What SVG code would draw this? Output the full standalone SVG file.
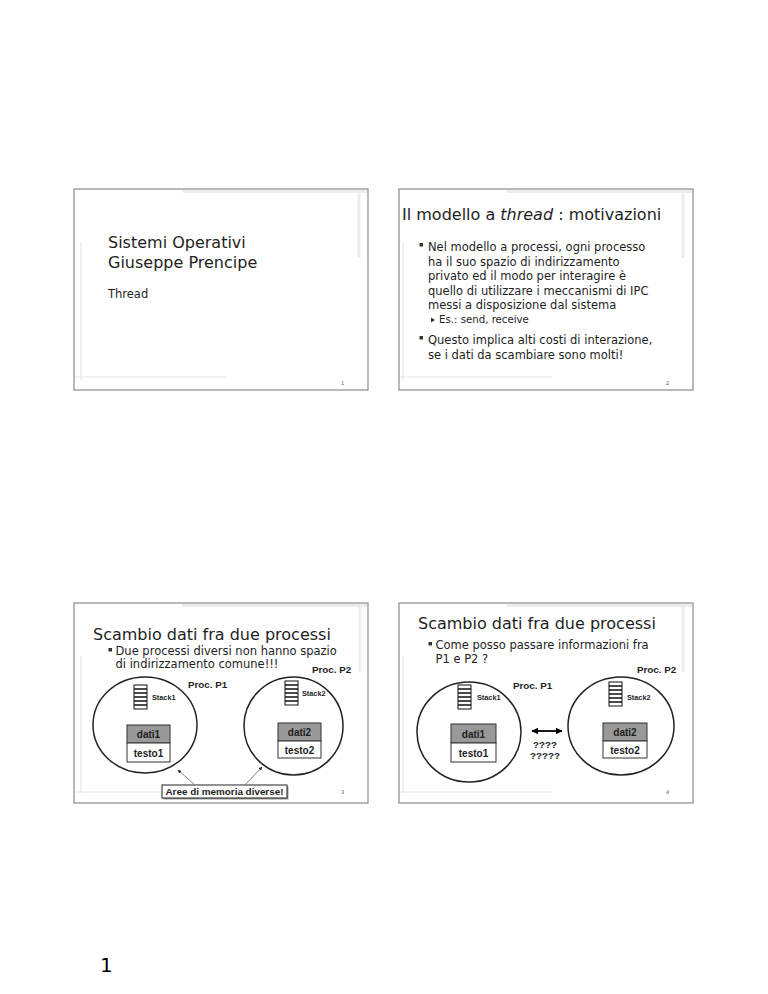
<svg xmlns="http://www.w3.org/2000/svg" width="768" height="994" viewBox="0 0 768 994">
<defs>
<style>
.frame{fill:#fff;stroke:#8a8a8a;stroke-width:1.2}
.shadeT{stroke:#ececec;stroke-width:3;fill:none}
.shadeL{stroke:#e6e6e6;stroke-width:1.2;fill:none}
.t{font-family:"DejaVu Sans","Noto Sans",sans-serif;fill:#1e1e1e}
.title{font-size:16px}
.body{font-size:11.5px}
.small{font-size:10.2px}
.pn{font-family:"DejaVu Sans",sans-serif;font-size:5px;fill:#555}
.lbl{font-family:"Liberation Sans",Arial,sans-serif;font-weight:bold;fill:#1e1e1e}
.circ{fill:#fff;stroke:#222;stroke-width:1.5}
.dati{fill:#999;stroke:#333;stroke-width:1}
.testo{fill:#fff;stroke:#333;stroke-width:1}
.stk{fill:#fff;stroke:#111;stroke-width:1}
.bul{fill:#333}
.ptr{stroke:#777;stroke-width:0.9;fill:none}
</style>
<marker id="ah" viewBox="0 0 10 10" refX="9" refY="5" markerWidth="4" markerHeight="4" orient="auto"><path d="M0,0 L10,5 L0,10 z" fill="#222"/></marker>
<marker id="ab" viewBox="0 0 10 10" refX="9" refY="5" markerWidth="4" markerHeight="4" orient="auto-start-reverse"><path d="M0,0 L10,5 L0,10 z" fill="#000"/></marker>
<g id="stackIcon">
<rect class="stk" x="0" y="0" width="13" height="24"/>
<path d="M0,4H13M0,8H13M0,12H13M0,16H13M0,20H13" stroke="#111" stroke-width="1.6"/>
</g>
</defs>
<rect width="768" height="994" fill="#fff"/>

<!-- Slide 1 -->
<g id="slide1">
<rect class="frame" x="74" y="189" width="294" height="201"/>
<path class="shadeT" d="M183,191.5H367"/>
<path class="shadeT" d="M359,192V258" stroke-width="2"/>
<path class="shadeL" d="M81,242V380M75,377H227"/>
<text class="t title" x="108" y="248">Sistemi Operativi</text>
<text class="t title" x="108" y="268">Giuseppe Prencipe</text>
<text class="t body" x="108" y="298">Thread</text>
<text class="pn" x="341" y="385">1</text>
</g>

<!-- Slide 2 -->
<g id="slide2">
<rect class="frame" x="399" y="189" width="294" height="201"/>
<path class="shadeT" d="M507,191.5H692"/>
<path class="shadeT" d="M683,192V258" stroke-width="2"/>
<path class="shadeL" d="M403,242V380M400,377H552"/>
<text class="t title" x="402" y="220">Il modello a <tspan font-style="italic">thread</tspan> : motivazioni</text>
<rect class="bul" x="419.5" y="243" width="3.5" height="3.5"/>
<text class="t body" x="428" y="251">Nel modello a processi, ogni processo</text>
<text class="t body" x="428" y="265.5">ha il suo spazio di indirizzamento</text>
<text class="t body" x="428" y="280">privato ed il modo per interagire è</text>
<text class="t body" x="428" y="294.5">quello di utilizzare i meccanismi di IPC</text>
<text class="t body" x="428" y="309">messi a disposizione dal sistema</text>
<path d="M431,317.5L435,320L431,322.5z" fill="#333"/>
<text class="t small" x="439" y="323">Es.: send, receive</text>
<rect class="bul" x="419.5" y="336" width="3.5" height="3.5"/>
<text class="t body" x="428" y="344">Questo implica alti costi di interazione,</text>
<text class="t body" x="428" y="358.5">se i dati da scambiare sono molti!</text>
<text class="pn" x="666" y="385">2</text>
</g>

<!-- Slide 3 -->
<g id="slide3">
<rect class="frame" x="74" y="603" width="294" height="200"/>
<path class="shadeT" d="M182,605.5H367"/>
<path class="shadeT" d="M360,606V672" stroke-width="2"/>
<path class="shadeL" d="M81,656V793M75,792H230"/>
<text class="t title" x="93" y="640">Scambio dati fra due processi</text>
<rect class="bul" x="108.5" y="648" width="3.5" height="3.5"/>
<text class="t body" x="115.5" y="655">Due processi diversi non hanno spazio</text>
<text class="t body" x="115.5" y="667.5">di indirizzamento comune!!!</text>
<text class="lbl" x="312" y="673" font-size="9.8">Proc. P2</text>
<text class="lbl" x="188" y="688" font-size="9.8">Proc. P1</text>
<text class="pn" x="341" y="794">3</text>
</g>
<g id="s3_p1">
<ellipse class="circ" cx="145" cy="725" rx="52" ry="48"/>
<use href="#stackIcon" x="134" y="685"/>
<text class="lbl" x="152" y="700" font-size="7.3">Stack1</text>
<rect class="dati" x="127" y="725" width="43" height="18"/>
<rect class="testo" x="127" y="743" width="43" height="19"/>
<text class="lbl" x="148.5" y="738" font-size="10" text-anchor="middle">dati1</text>
<text class="lbl" x="148.5" y="756.5" font-size="10" text-anchor="middle">testo1</text>
</g>
<g id="s3_p2">
<ellipse class="circ" cx="293.5" cy="726" rx="49.5" ry="49"/>
<use href="#stackIcon" x="285" y="681"/>
<text class="lbl" x="302" y="696" font-size="7.3">Stack2</text>
<rect class="dati" x="278" y="723" width="43" height="18"/>
<rect class="testo" x="278" y="741" width="43" height="17"/>
<text class="lbl" x="299.5" y="736" font-size="10" text-anchor="middle">dati2</text>
<text class="lbl" x="299.5" y="753.5" font-size="10" text-anchor="middle">testo2</text>
</g>
<g id="s3_note">
<rect x="163.5" y="786.5" width="125" height="13" fill="#999"/>
<rect x="162" y="785" width="125" height="13" fill="#fff" stroke="#222" stroke-width="1"/>
<text class="lbl" x="224.5" y="795" font-size="9.9" text-anchor="middle">Aree di memoria diverse!</text>
</g>

<!-- Slide 4 -->
<g id="slide4">
<rect class="frame" x="399" y="603" width="294" height="200"/>
<path class="shadeT" d="M507,605.5H692"/>
<path class="shadeT" d="M683,606V672" stroke-width="2"/>
<path class="shadeL" d="M403,656V793M400,792H552"/>
<text class="t title" x="418" y="629" font-size="16.5px">Scambio dati fra due processi</text>
<rect class="bul" x="428.5" y="642" width="3.5" height="3.5"/>
<text class="t body" x="435.5" y="649">Come posso passare informazioni fra</text>
<text class="t body" x="435.5" y="663">P1 e P2 ?</text>
<text class="lbl" x="637" y="673" font-size="9.8">Proc. P2</text>
<text class="lbl" x="513" y="689" font-size="9.8">Proc. P1</text>
<text class="lbl" x="545" y="748" font-size="9.8" text-anchor="middle">????</text>
<text class="lbl" x="545" y="758.5" font-size="9.8" text-anchor="middle">?????</text>
<text class="pn" x="666" y="794">4</text>
</g>
<g id="s4_p1">
<ellipse class="circ" cx="469" cy="732" rx="52" ry="50"/>
<use href="#stackIcon" x="458" y="685"/>
<text class="lbl" x="477" y="700" font-size="7.3">Stack1</text>
<rect class="dati" x="451" y="724" width="45" height="19"/>
<rect class="testo" x="451" y="743" width="45" height="19"/>
<text class="lbl" x="473.5" y="737.5" font-size="10" text-anchor="middle">dati1</text>
<text class="lbl" x="473.5" y="756.5" font-size="10" text-anchor="middle">testo1</text>
</g>
<g id="s4_p2">
<ellipse class="circ" cx="621" cy="726" rx="53" ry="49"/>
<use href="#stackIcon" x="609" y="682"/>
<text class="lbl" x="627" y="700" font-size="7.3">Stack2</text>
<rect class="dati" x="603" y="723" width="44" height="18"/>
<rect class="testo" x="603" y="741" width="44" height="17"/>
<text class="lbl" x="625" y="736" font-size="10" text-anchor="middle">dati2</text>
<text class="lbl" x="625" y="753.5" font-size="10" text-anchor="middle">testo2</text>
</g>

<g id="connectors">
<path class="ptr" d="M195,785L178,770" marker-end="url(#ah)"/>
<path class="ptr" d="M245,785L262,767" marker-end="url(#ah)"/>
<path d="M532,731H562" stroke="#000" stroke-width="1.8" marker-start="url(#ab)" marker-end="url(#ab)"/>
</g>

<text x="100" y="972" font-family="DejaVu Sans,sans-serif" font-size="20" fill="#000">1</text>
</svg>
